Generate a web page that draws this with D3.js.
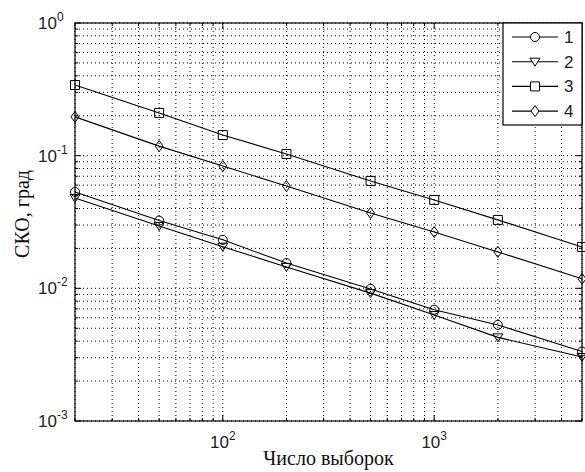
<!DOCTYPE html>
<html>
<head>
<meta charset="utf-8">
<script src="https://cdn.jsdelivr.net/npm/d3@7"></script>
<style>
  body { margin: 0; background: #fff; }
</style>
</head>
<body>
<div id="chart"></div>
<script>
// Число выборок
const samples = [20, 50, 100, 200, 500, 1000, 2000, 5000];

// СКО, град for each curve
const series1 = [0.0533, 0.0324, 0.0232, 0.0155, 0.0099, 0.0069, 0.0053, 0.00334];
const series2 = [0.048, 0.0295, 0.0206, 0.0145, 0.0092, 0.0063, 0.00427, 0.00304];
const series3 = [0.341, 0.21, 0.143, 0.103, 0.0645, 0.0464, 0.0328, 0.0205];
const series4 = [0.196, 0.118, 0.0836, 0.059, 0.037, 0.0266, 0.0188, 0.0118];

const seriesNames = ["1", "2", "3", "4"];
const markerTypes = ["circle", "triangle", "square", "diamond"];

const xTickExps = [2, 3];
const yTickExps = [0, -1, -2, -3];

const W = 585, H = 472;
const margin = { top: 23, right: 3, bottom: 51, left: 75 };
const width = W - margin.left - margin.right;
const height = H - margin.top - margin.bottom;

const svg = d3.select("#chart")
  .append("svg")
  .attr("width", W)
  .attr("height", H);

const g = svg.append("g")
  .attr("transform", `translate(${margin.left},${margin.top})`);

const x = d3.scaleLog().domain([20, 5000]).range([0, width]);
const y = d3.scaleLog().domain([1e-3, 1]).range([height, 0]);

// grid values: every k*10^d inside the domain
function logSteps(lo, hi) {
  const out = [];
  for (let d = Math.floor(Math.log10(lo)); d <= Math.ceil(Math.log10(hi)); d++) {
    for (let k = 1; k <= 9; k++) {
      const v = k * Math.pow(10, d);
      if (v >= lo * 0.999 && v <= hi * 1.001) out.push(v);
    }
  }
  return out;
}
const xGrid = logSteps(20, 5000);
const yGrid = logSteps(1e-3, 1);

// dotted grid
g.append("g")
  .selectAll("line")
  .data(xGrid)
  .enter()
  .append("line")
  .attr("x1", (d) => x(d))
  .attr("x2", (d) => x(d))
  .attr("y1", 0)
  .attr("y2", height)
  .attr("stroke", "#000")
  .attr("stroke-width", 1)
  .attr("stroke-dasharray", "1,3");

g.append("g")
  .selectAll("line")
  .data(yGrid)
  .enter()
  .append("line")
  .attr("x1", 0)
  .attr("x2", width)
  .attr("y1", (d) => y(d))
  .attr("y2", (d) => y(d))
  .attr("stroke", "#000")
  .attr("stroke-width", 1)
  .attr("stroke-dasharray", "1,3");

// inside tick marks on all four sides
const isMajor = (v) => Math.abs(Math.log10(v) - Math.round(Math.log10(v))) < 1e-6;
const ticks = g.append("g").attr("stroke", "#000").attr("stroke-width", 1);
xGrid.forEach((v) => {
  const len = isMajor(v) ? 6 : 3;
  ticks.append("line").attr("x1", x(v)).attr("x2", x(v)).attr("y1", height).attr("y2", height - len);
  ticks.append("line").attr("x1", x(v)).attr("x2", x(v)).attr("y1", 0).attr("y2", len);
});
yGrid.forEach((v) => {
  const len = isMajor(v) ? 6 : 3;
  ticks.append("line").attr("x1", 0).attr("x2", len).attr("y1", y(v)).attr("y2", y(v));
  ticks.append("line").attr("x1", width).attr("x2", width - len).attr("y1", y(v)).attr("y2", y(v));
});

// frame
g.append("rect")
  .attr("width", width)
  .attr("height", height)
  .attr("fill", "none")
  .attr("stroke", "#000")
  .attr("stroke-width", 1.2);

// tick labels
const tickFont = "'Liberation Sans', Arial, sans-serif";
xTickExps.forEach((e) => {
  const t = g.append("text")
    .attr("x", x(Math.pow(10, e)))
    .attr("y", height + 27)
    .attr("text-anchor", "middle")
    .attr("font-family", tickFont)
    .attr("font-size", 17)
    .attr("fill", "#222");
  t.append("tspan").text("10");
  t.append("tspan").attr("dy", -8).attr("font-size", 12).text(e);
});
yTickExps.forEach((e) => {
  const t = g.append("text")
    .attr("x", -37)
    .attr("y", y(Math.pow(10, e)) + 6)
    .attr("text-anchor", "start")
    .attr("font-family", tickFont)
    .attr("font-size", 17)
    .attr("fill", "#222");
  t.append("tspan").text("10");
  t.append("tspan").attr("dy", -8).attr("font-size", 12).text(e);
});

// axis titles
svg.append("text")
  .attr("x", margin.left + width / 2)
  .attr("y", 465)
  .attr("text-anchor", "middle")
  .attr("font-family", "'Liberation Serif', 'Times New Roman', serif")
  .attr("font-size", 20)
  .attr("fill", "#111")
  .text("Число выборок");

svg.append("text")
  .attr("transform", `translate(29,${margin.top + height / 2 - 8}) rotate(-90)`)
  .attr("text-anchor", "middle")
  .attr("font-family", "'Liberation Serif', 'Times New Roman', serif")
  .attr("font-size", 20)
  .attr("fill", "#111")
  .text("СКО, град");

// marker shapes
function markerPath(type) {
  switch (type) {
    case "circle":
      return d3.arc()({ innerRadius: 0, outerRadius: 4.5, startAngle: 0, endAngle: 2 * Math.PI });
    case "triangle":
      return "M-5,-3.5L5,-3.5L0,4.5Z";
    case "square":
      return "M-4.5,-4.5H4.5V4.5H-4.5Z";
    case "diamond":
      return "M0,-5.5L4,0L0,5.5L-4,0Z";
  }
}

const allSeries = [series1, series2, series3, series4];
const line = d3.line()
  .x((d, i) => x(samples[i]))
  .y((d) => y(d));

allSeries.forEach((vals, si) => {
  g.append("path")
    .datum(vals)
    .attr("d", line)
    .attr("fill", "none")
    .attr("stroke", "#000")
    .attr("stroke-width", 1.1);

  g.append("g")
    .selectAll("path")
    .data(vals)
    .enter()
    .append("path")
    .attr("transform", (d, i) => `translate(${x(samples[i])},${y(d)})`)
    .attr("d", markerPath(markerTypes[si]))
    .attr("fill", "none")
    .attr("stroke", "#000")
    .attr("stroke-width", 1);
});

// legend
const legend = svg.append("g").attr("transform", `translate(503,${margin.top})`);
legend.append("rect")
  .attr("width", 582 - 503)
  .attr("height", 102)
  .attr("fill", "#fff")
  .attr("stroke", "#000")
  .attr("stroke-width", 1.2);

seriesNames.forEach((name, i) => {
  const yy = 14 + i * 24.7;
  legend.append("line")
    .attr("x1", 9).attr("x2", 55)
    .attr("y1", yy).attr("y2", yy)
    .attr("stroke", "#000").attr("stroke-width", 1.1);
  legend.append("path")
    .attr("transform", `translate(32,${yy})`)
    .attr("d", markerPath(markerTypes[i]))
    .attr("fill", "#fff")
    .attr("stroke", "#000");
  legend.append("text")
    .attr("x", 61)
    .attr("y", yy + 6)
    .attr("font-family", tickFont)
    .attr("font-size", 17)
    .attr("fill", "#222")
    .text(name);
});
</script>
</body>
</html>
